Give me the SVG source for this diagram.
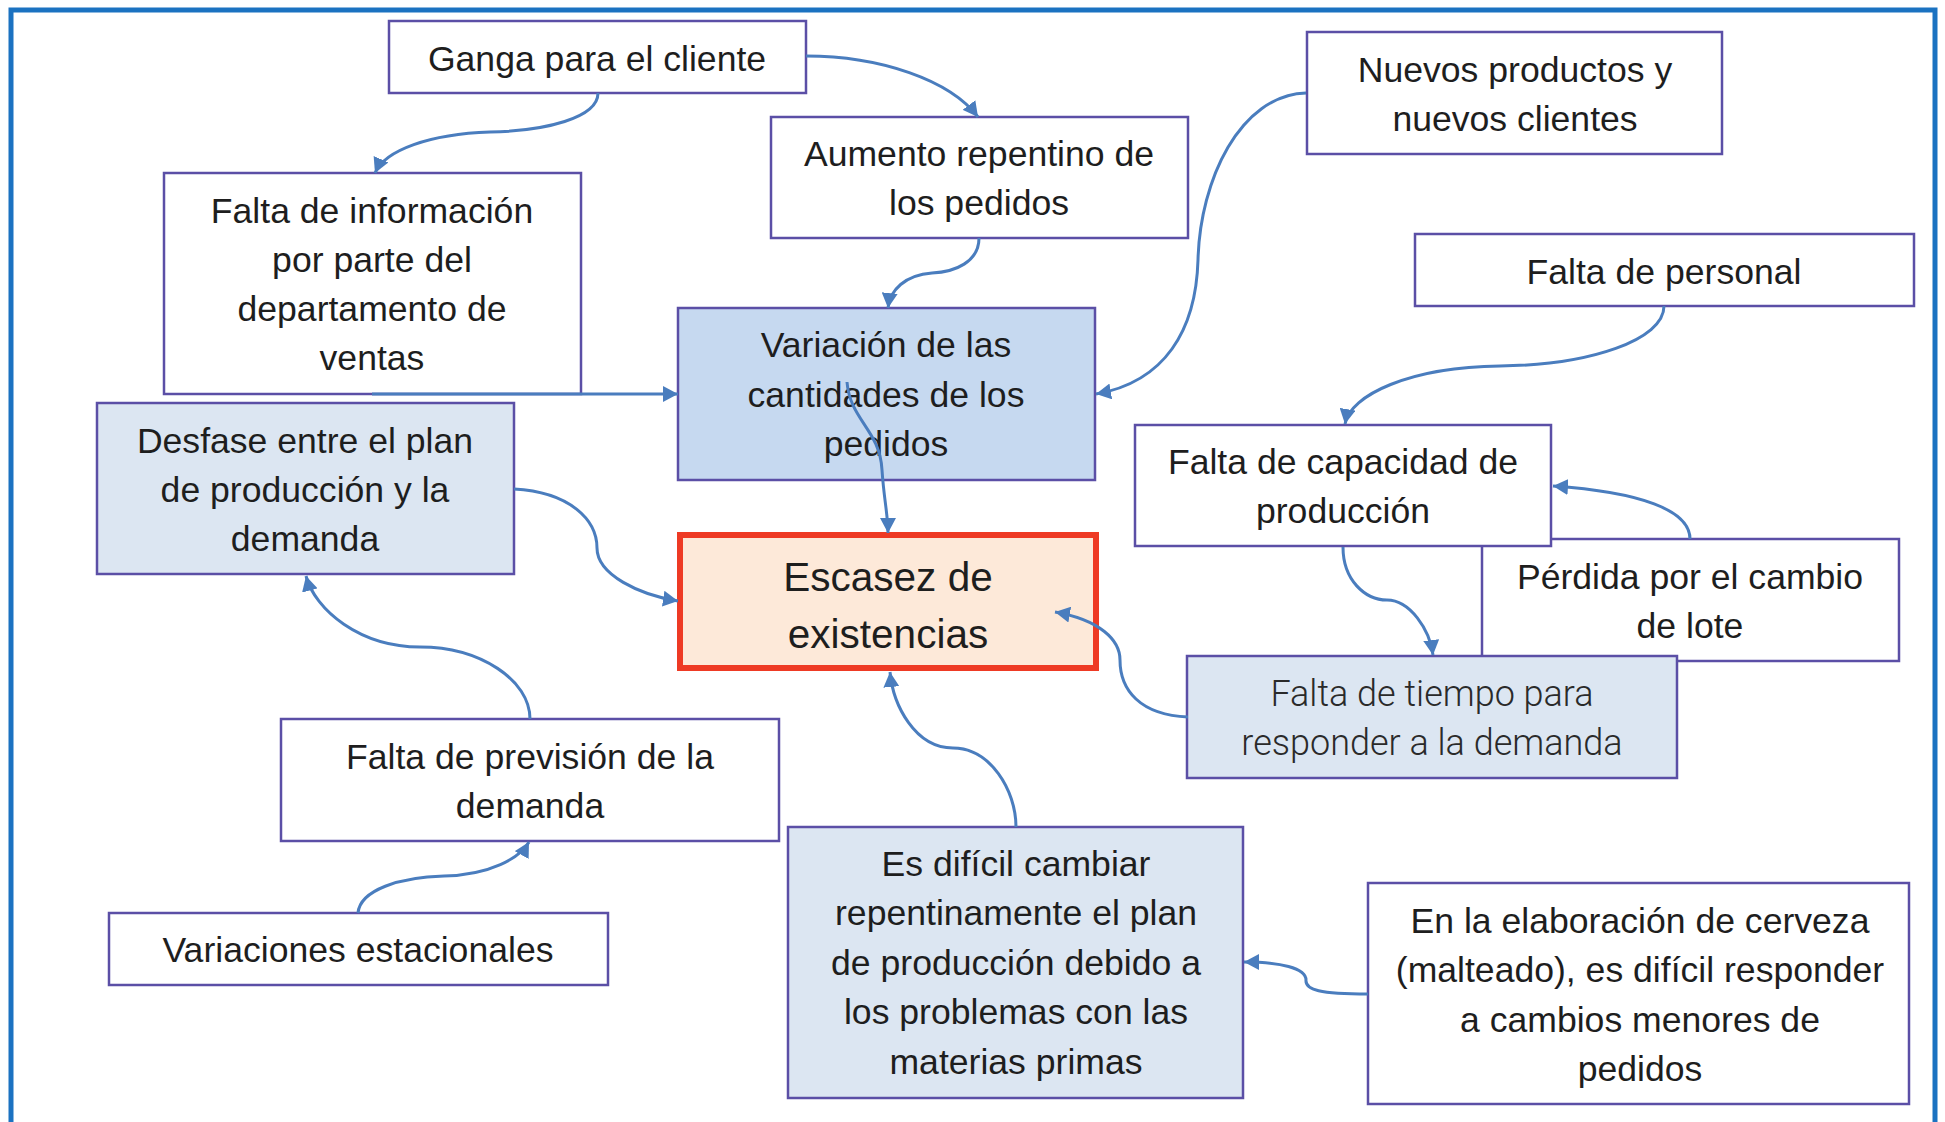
<svg xmlns="http://www.w3.org/2000/svg" width="1945" height="1122" viewBox="0 0 1945 1122">
<style>
.box{fill:#ffffff;stroke:#5b4fa6;stroke-width:2.5}
.lb{fill:#dce6f2;stroke:#5b4fa6;stroke-width:2.5}
.mb{fill:#c6d9f0;stroke:#5b4fa6;stroke-width:2.5}
.main{fill:#fde9d9;stroke:#ee3a24;stroke-width:6}
text{font-family:"Liberation Sans",Arial,sans-serif;font-size:35.6px;fill:#1e1e1e;text-anchor:middle}
.big{font-size:40.5px}
.light{font-family:Roboto,"Liberation Sans",sans-serif;font-weight:300;font-size:36px;fill:#2a2a2a}
.con path{fill:none;stroke:#4a7dbe;stroke-width:3;marker-end:url(#ah)}
</style>
<defs>
<marker id="ah" markerUnits="userSpaceOnUse" markerWidth="16" markerHeight="16" refX="15" refY="8" orient="auto">
<path d="M0,0 L15,8 L0,16 z" fill="#4a7dbe"/>
</marker>
</defs>
<rect x="0" y="0" width="1945" height="1122" fill="#ffffff"/>
<rect x="11" y="10" width="1924" height="1140" fill="none" stroke="#1b72c1" stroke-width="5"/>

<g id="ganga"><rect class="box" x="389" y="21" width="417" height="72"/><text x="597" y="71">Ganga para el cliente</text></g>
<g id="falta-info"><rect class="box" x="164" y="173" width="417" height="221"/>
<text x="372" y="223">Falta de información</text><text x="372" y="272">por parte del</text><text x="372" y="321">departamento de</text><text x="372" y="370">ventas</text></g>
<g id="aumento"><rect class="box" x="771" y="117" width="417" height="121"/>
<text x="979" y="166">Aumento repentino de</text><text x="979" y="215">los pedidos</text></g>
<g id="variacion"><rect class="mb" x="678" y="308" width="417" height="172"/>
<text x="886" y="357">Variación de las</text><text x="886" y="407">cantidades de los</text><text x="886" y="456">pedidos</text></g>
<g id="desfase"><rect class="lb" x="97" y="403" width="417" height="171"/>
<text x="305" y="453">Desfase entre el plan</text><text x="305" y="502">de producción y la</text><text x="305" y="551">demanda</text></g>
<g id="escasez"><rect class="main" x="680" y="535" width="416" height="133"/>
<text class="big" x="888" y="591">Escasez de</text><text class="big" x="888" y="648">existencias</text></g>
<g id="nuevos"><rect class="box" x="1307" y="32" width="415" height="122"/>
<text x="1515" y="82">Nuevos productos y</text><text x="1515" y="131">nuevos clientes</text></g>
<g id="personal"><rect class="box" x="1415" y="234" width="499" height="72"/><text x="1664" y="284">Falta de personal</text></g>
<g id="perdida"><rect class="box" x="1482" y="539" width="417" height="122"/>
<text x="1690" y="589">Pérdida por el cambio</text><text x="1690" y="638">de lote</text></g>
<g id="capacidad"><rect class="box" x="1135" y="425" width="416" height="121"/>
<text x="1343" y="474">Falta de capacidad de</text><text x="1343" y="523">producción</text></g>
<g id="tiempo"><rect class="lb" x="1187" y="656" width="490" height="122"/>
<text class="light" x="1432" y="706">Falta de tiempo para</text><text class="light" x="1432" y="755">responder a la demanda</text></g>
<g id="prevision"><rect class="box" x="281" y="719" width="498" height="122"/>
<text x="530" y="769">Falta de previsión de la</text><text x="530" y="818">demanda</text></g>
<g id="estacionales"><rect class="box" x="109" y="913" width="499" height="72"/><text x="358" y="962">Variaciones estacionales</text></g>
<g id="dificil"><rect class="lb" x="788" y="827" width="455" height="271"/>
<text x="1016" y="876">Es difícil cambiar</text><text x="1016" y="925">repentinamente el plan</text><text x="1016" y="975">de producción debido a</text><text x="1016" y="1024">los problemas con las</text><text x="1016" y="1074">materias primas</text></g>
<g id="cerveza"><rect class="box" x="1368" y="883" width="541" height="221"/>
<text x="1640" y="933">En la elaboración de cerveza</text><text x="1640" y="982">(malteado), es difícil responder</text><text x="1640" y="1032">a cambios menores de</text><text x="1640" y="1081">pedidos</text></g>

<g id="connectors" class="con">
<path d="M806,56 C880,56 950,80 978,117"/>
<path d="M598,93 C598,118 545,131 490,132 C430,134 385,150 375,173"/>
<path d="M979,238 C979,262 955,272 932,273 C905,275 890,290 888,308"/>
<path d="M1306,93 C1240,95 1200,180 1198,260 C1196,330 1165,382 1096,394"/>
<path d="M372,394 H678"/>
<path d="M847,382 C850,420 880,430 882,470 C884,500 888,515 888,533"/>
<path d="M514,489 C570,492 597,520 597,548 C597,575 640,595 678,601"/>
<path d="M530,719 C530,680 480,647 420,647 C360,647 315,610 306,576"/>
<path d="M358,913 C360,890 400,877 444,876 C490,875 520,858 529,842"/>
<path d="M1016,827 C1016,790 990,748 953,748 C915,748 893,705 890,672"/>
<path d="M1368,994 C1320,994 1305,990 1306,980 C1306,968 1280,962 1244,962"/>
<path d="M1188,717 C1140,715 1120,690 1120,660 C1120,640 1100,620 1055,612"/>
<path d="M1343,547 C1343,580 1365,600 1387,600 C1410,600 1430,630 1433,655"/>
<path d="M1664,306 C1664,340 1590,365 1500,366 C1410,367 1350,395 1345,424"/>
<path d="M1690,539 C1690,510 1640,492 1553,486"/>
</g>
</svg>
